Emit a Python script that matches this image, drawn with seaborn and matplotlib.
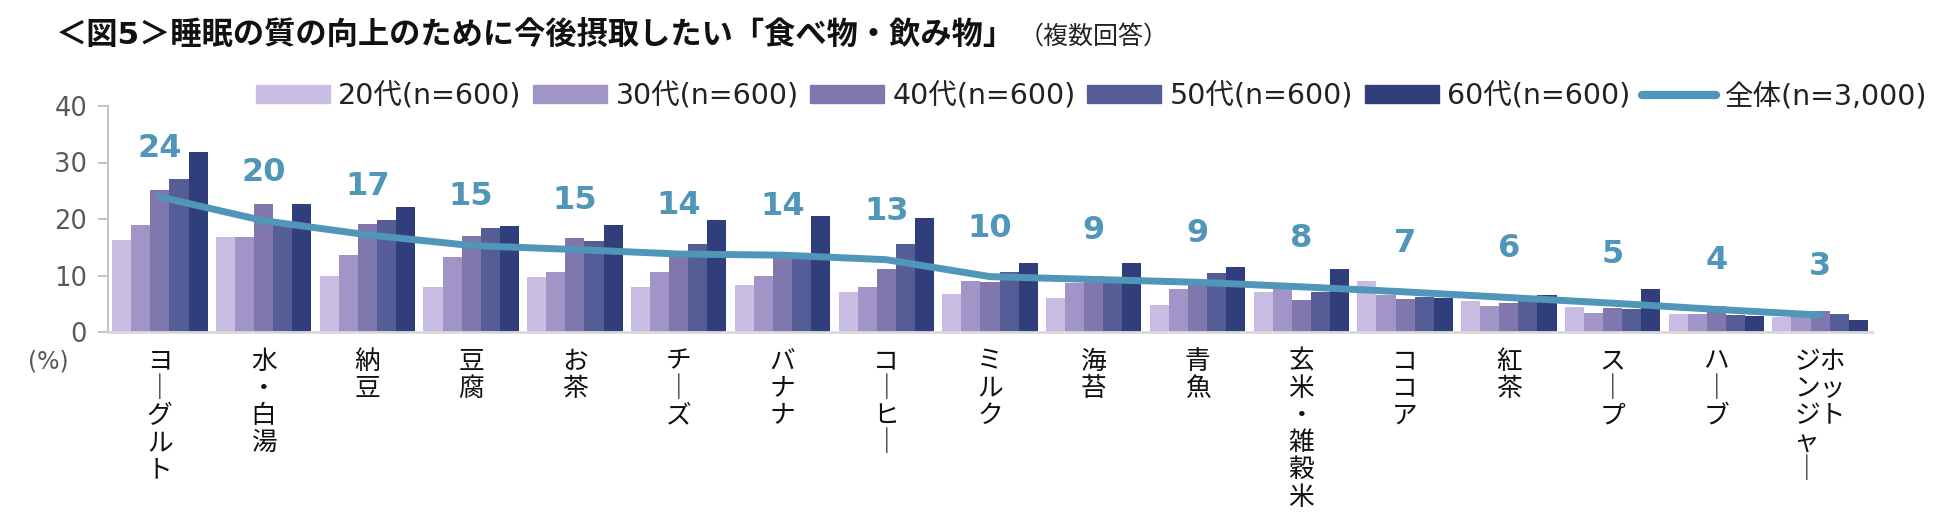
import numpy as np
import pandas as pd
import matplotlib.pyplot as plt
import seaborn as sns
from matplotlib.lines import Line2D

sns.set_theme(style="white")
plt.rcParams['font.family'] = ['DejaVu Sans', 'Noto Sans CJK JP']

# 品目
categories = ["ヨーグルト", "水・白湯", "納豆", "豆腐", "お茶", "チーズ", "バナナ", "コーヒー",
              "ミルク", "海苔", "青魚", "玄米・雑穀米", "ココア", "紅茶", "スープ", "ハーブ",
              "ホットジンジャー"]

# 年代別 (%)
v20 = [16.3, 16.8, 10.0, 8.0, 9.8, 8.0, 8.4, 7.1, 6.7, 6.0, 4.8, 7.0, 9.0, 5.5, 4.5, 3.2, 2.6]
v30 = [18.9, 16.8, 13.7, 13.3, 10.7, 10.6, 9.9, 8.0, 9.0, 8.7, 7.6, 7.6, 6.5, 4.6, 3.3, 3.2, 2.9]
v40 = [25.1, 22.6, 19.1, 17.0, 16.7, 13.5, 13.2, 11.1, 8.8, 9.9, 8.6, 5.7, 5.9, 5.2, 4.3, 4.6, 3.8]
v50 = [27.1, 19.3, 19.9, 18.4, 16.1, 15.6, 13.2, 15.5, 10.6, 9.3, 10.4, 7.0, 6.2, 5.5, 4.0, 3.0, 3.2]
v60 = [31.9, 22.6, 22.1, 18.8, 18.9, 19.8, 20.6, 20.2, 12.3, 12.2, 11.5, 11.1, 6.0, 6.6, 7.6, 2.8, 2.2]
# 全体
total = [23.9, 19.7, 17.2, 15.3, 14.6, 13.8, 13.6, 12.8, 9.8, 9.3, 8.8, 8.0, 7.1, 6.1, 5.1, 4.0, 3.0]

groups = ["20代(n=600)", "30代(n=600)", "40代(n=600)", "50代(n=600)", "60代(n=600)"]
total_label = "全体(n=3,000)"
colors = ["#C9BCE3", "#A194C6", "#7F77AE", "#555D96", "#313E7C"]
line_color = "#4F96B9"

rows = []
for g, vals in zip(groups, [v20, v30, v40, v50, v60]):
    for c, v in zip(categories, vals):
        rows.append({"品目": c, "年代": g, "割合": v})
df = pd.DataFrame(rows)

W, H = 1950, 530
fig = plt.figure(figsize=(W / 100, H / 100), dpi=100)
ax = fig.add_axes([108 / W, 1 - 332 / H, (1872 - 108) / W, (332 - 106) / H])

sns.barplot(data=df, x="品目", y="割合", hue="年代", hue_order=groups, order=categories,
            palette=colors, saturation=1, width=0.92, edgecolor="none", linewidth=0, ax=ax)

x = np.arange(len(categories))
ax.plot(x, total, color=line_color, lw=5, solid_capstyle="round", solid_joinstyle="round",
        zorder=5)
for xi, v in zip(x, total):
    ax.annotate(f"{v:.0f}", (xi, v), xytext=(0, 35), textcoords="offset points",
                ha="center", va="center", fontsize=23, fontweight="bold", color=line_color)

ax.set_xlim(-0.5, len(categories) - 0.5)
ax.set_ylim(0, 40)
ax.set_yticks([0, 10, 20, 30, 40])
ax.set_xlabel("")
ax.set_ylabel("")
for s in ["top", "right"]:
    ax.spines[s].set_visible(False)
ax.spines["left"].set_color("#BFBFBF")
ax.spines["left"].set_linewidth(1.3)
ax.spines["bottom"].set_color("#D9D9D9")
ax.spines["bottom"].set_linewidth(2)
ax.tick_params(axis="y", direction="out", length=7, width=1.3, color="#BFBFBF",
               labelcolor="#595959", labelsize=18.5, pad=8, left=True)
ax.tick_params(axis="x", length=0, pad=12)


def vertical(label):
    # 縦書き: 1行に1文字、長音は縦棒に
    if label == "ホットジンジャー":
        right, left = "ホット", "ジンジャ｜"
        right = right + "　" * (len(left) - len(right))
        return "\n".join(a + b for a, b in zip(left, right))
    return "\n".join(label.replace("ー", "｜"))


ax.set_xticks(x)
ax.set_xticklabels([vertical(c) for c in categories], fontsize=18.5, color="#111111",
                   family=["Noto Sans CJK JP"], linespacing=1.06, va="top")

handles = [plt.Rectangle((0, 0), 1, 1, color=c) for c in colors]
handles.append(Line2D([0], [0], color=line_color, lw=6, solid_capstyle="round"))
if ax.get_legend() is not None:
    ax.get_legend().remove()
fig.legend(handles, groups + [total_label], ncol=6, loc="center right",
           bbox_to_anchor=(1927 / W, 1 - 96 / H), frameon=False, fontsize=20.5,
           handlelength=2.6, handleheight=0.55, handletextpad=0.3, columnspacing=0.4,
           labelcolor="#222222", borderaxespad=0, borderpad=0)

fig.text(48 / W, 1 - 362 / H, "(%)", ha="center", va="center", fontsize=17, color="#595959")

title = fig.text(56 / W, 1 - 35 / H, "＜図5＞睡眠の質の向上のために今後摂取したい「食べ物・飲み物」",
                 ha="left", va="center", fontsize=22.5, fontweight="bold", color="#111111")
fig.canvas.draw()
bb = title.get_window_extent()
fig.text(bb.x1 / W + 0.002, 1 - 37 / H, "（複数回答）", ha="left", va="center",
         fontsize=18, color="#222222")

fig.savefig("out.png", dpi=100)
